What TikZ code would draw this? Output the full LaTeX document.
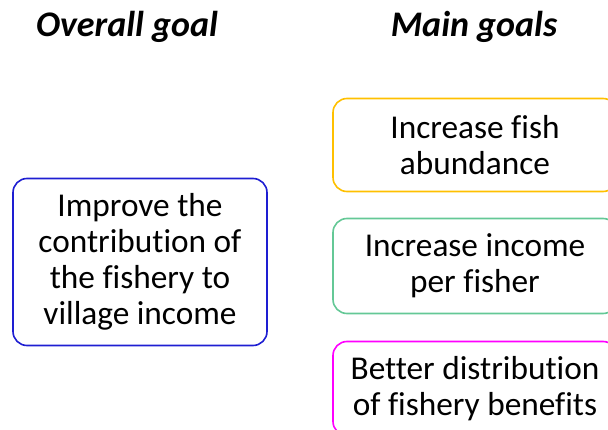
\documentclass[tikz,border=0pt]{standalone}
\usepackage{fontspec}
\setmainfont[Ligatures=NoCommon]{Carlito}
\definecolor{cblue}{RGB}{30,30,210}
\definecolor{cyellow}{RGB}{255,192,0}
\definecolor{cgreen}{RGB}{100,200,150}
\definecolor{cmagenta}{RGB}{255,0,255}
\begin{document}
\begin{tikzpicture}[x=1pt,y=-1pt,
  goalbox/.style={draw, line width=1.6pt, rounded corners=14pt, align=center, inner sep=0pt,
    font=\fontsize{33.3}{36}\selectfont},
  header/.style={font=\fontsize{36}{40}\selectfont\bfseries\itshape, inner sep=0pt}]
\useasboundingbox (0,0) rectangle (608,430);
\node[header] (h1) at (127,27) {Overall goal};
\node[header] (h2) at (474,27) {Main goals};
\node[goalbox, cblue, text=black, minimum width=254pt, minimum height=167pt] (overall) at (140,262)
  {Improve the\\contribution of\\the fishery to\\village income};
\node[goalbox, cyellow, text=black, minimum width=284pt, minimum height=93pt] (g1) at (475,145)
  {Increase fish\\abundance};
\node[goalbox, cgreen, text=black, minimum width=284pt, minimum height=95pt] (g2) at (475,266)
  {Increase income\\per fisher};
\node[goalbox, cmagenta, text=black, minimum width=284pt, minimum height=94pt] (g3) at (475,388.5)
  {Better distribution\\of fishery benefits};
\end{tikzpicture}
\end{document}
